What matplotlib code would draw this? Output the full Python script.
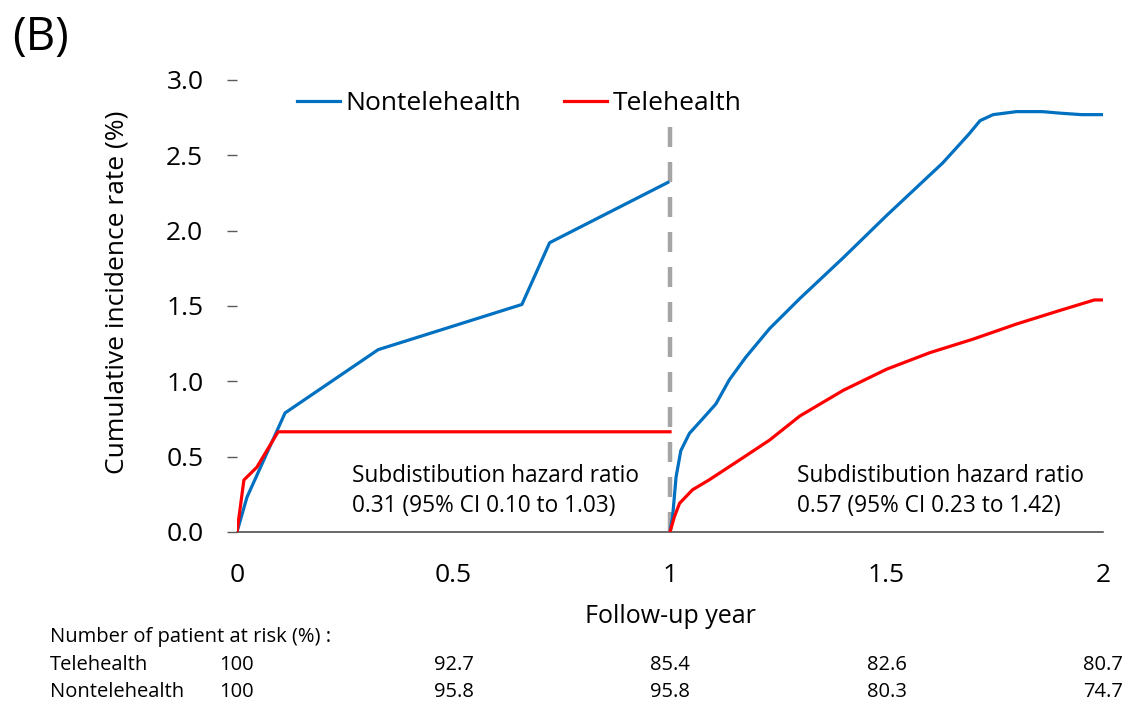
import matplotlib.pyplot as plt
from matplotlib.transforms import blended_transform_factory

plt.rcParams['font.family'] = ['Open Sans', 'DejaVu Sans']
plt.rcParams['lines.scale_dashes'] = False

# ---------------------------------------------------------------------
# Data (follow-up year vs cumulative incidence %)
# ---------------------------------------------------------------------
# first year
blue1_x = [0.0, 0.023, 0.111, 0.326, 0.658, 0.722, 0.995]
blue1_y = [0.0, 0.23, 0.79, 1.21, 1.51, 1.92, 2.32]
red1_x = [0.0, 0.016, 0.046, 0.095, 1.0]
red1_y = [0.0, 0.345, 0.43, 0.665, 0.665]

# second year
blue2_x = [1.0, 1.006, 1.014, 1.025, 1.045, 1.075, 1.106, 1.137, 1.175, 1.23,
           1.30, 1.40, 1.50, 1.63, 1.69, 1.716, 1.746, 1.80, 1.86, 1.90, 1.95, 2.0]
blue2_y = [0.0, 0.10, 0.365, 0.54, 0.655, 0.75, 0.85, 1.01, 1.16, 1.35,
           1.55, 1.82, 2.10, 2.45, 2.64, 2.73, 2.77, 2.79, 2.79, 2.78, 2.77, 2.77]
red2_x = [1.0, 1.01, 1.022, 1.052, 1.09, 1.167, 1.23, 1.30, 1.40, 1.50,
          1.60, 1.70, 1.80, 1.90, 1.98, 2.0]
red2_y = [0.0, 0.10, 0.19, 0.28, 0.345, 0.49, 0.61, 0.77, 0.94, 1.08,
          1.19, 1.28, 1.38, 1.47, 1.54, 1.54]

hr_text_1 = "Subdistibution hazard ratio\n0.31 (95% CI 0.10 to 1.03)"
hr_text_2 = "Subdistibution hazard ratio\n0.57 (95% CI 0.23 to 1.42)"

risk_times = [0, 0.5, 1, 1.5, 2]
risk_tele = ["100", "92.7", "85.4", "82.6", "80.7"]
risk_nontele = ["100", "95.8", "95.8", "80.3", "74.7"]

BLUE = "#0070C0"
RED = "#FF0000"

# ---------------------------------------------------------------------
# Plot
# ---------------------------------------------------------------------
fig = plt.figure(figsize=(11.29, 7.06), dpi=100)
ax = fig.add_axes([0.2099, 0.2465, 0.7671, 0.6402])

ax.plot(blue1_x, blue1_y, color=BLUE, lw=2.3, label="Nontelehealth")
ax.plot(red1_x, red1_y, color=RED, lw=2.3, label="Telehealth")
ax.plot(blue2_x, blue2_y, color=BLUE, lw=2.3)
ax.plot(red2_x, red2_y, color=RED, lw=2.3)

ax.plot([1, 1], [0, 2.70], color="#A5A5A5", lw=3.2, dashes=(14.4, 10.8), zorder=1)

ax.set_xlim(0, 2)
ax.set_ylim(0, 3.0)

for s in ["top", "right", "left"]:
    ax.spines[s].set_visible(False)
ax.spines["bottom"].set_color("#404040")
ax.spines["bottom"].set_linewidth(1.1)
ax.spines["bottom"].set_zorder(0)

ax.set_yticks([0, 0.5, 1.0, 1.5, 2.0, 2.5, 3.0])
ax.set_yticklabels(["0.0", "0.5", "1.0", "1.5", "2.0", "2.5", "3.0"])
ax.tick_params(axis="y", direction="out", length=7.2, width=1.0, color="#595959",
               pad=17, labelsize=19)

ax.set_xticks([0, 0.5, 1, 1.5, 2])
ax.set_xticklabels(["0", "0.5", "1", "1.5", "2"])
ax.tick_params(axis="x", which="major", length=0, pad=22, labelsize=19)
ax.set_xticks([1, 1.5, 2], minor=True)
ax.tick_params(axis="x", which="minor", direction="out", length=6.5, width=1.0,
               color="#404040")

ax.set_ylabel("Cumulative incidence rate (%)", fontsize=19)
ax.yaxis.set_label_coords(-0.1386, 0.531)
ax.yaxis.label.set_va("center")
ax.set_xlabel("Follow-up year", fontsize=18)
ax.xaxis.set_label_coords(0.5, -0.188)
ax.xaxis.label.set_va("center")

ax.legend(loc="center left", bbox_to_anchor=(0.069, 0.947), ncol=2, frameon=False,
          fontsize=19, handlelength=1.65, handletextpad=0.2, columnspacing=1.6,
          borderpad=0, borderaxespad=0)

ax.text(0.266, 0.27, hr_text_1, fontsize=16.3, va="center", ha="left", linespacing=1.35)
ax.text(1.293, 0.27, hr_text_2, fontsize=16.3, va="center", ha="left", linespacing=1.35)

fig.text(12 / 1129, 1 - 38 / 706, "(B)", fontsize=33, va="center", ha="left")

# risk table
tr = blended_transform_factory(ax.transData, fig.transFigure)
fig.text(50 / 1129, 1 - 637 / 706, "Number of patient at risk (%) :", fontsize=14.5,
         va="center", ha="left")
fig.text(50 / 1129, 1 - 665 / 706, "Telehealth", fontsize=14.5, va="center", ha="left")
fig.text(50 / 1129, 1 - 692 / 706, "Nontelehealth", fontsize=14.5, va="center", ha="left")
for t, a, b in zip(risk_times, risk_tele, risk_nontele):
    ax.text(t, 1 - 665 / 706, a, transform=tr, fontsize=14.5, va="center", ha="center")
    ax.text(t, 1 - 692 / 706, b, transform=tr, fontsize=14.5, va="center", ha="center")

fig.savefig("out.png", dpi=100)
